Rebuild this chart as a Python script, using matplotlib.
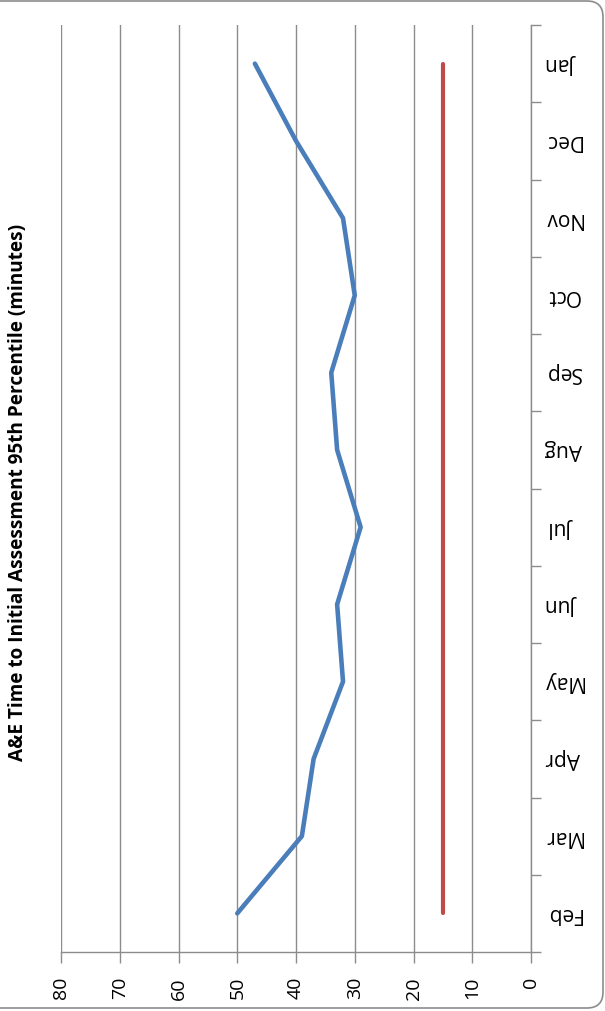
import numpy as np
import matplotlib.pyplot as plt
from matplotlib.patches import FancyBboxPatch

plt.rcParams['font.family'] = ['Open Sans', 'DejaVu Sans']

months = ["Feb", "Mar", "Apr", "May", "Jun", "Jul", "Aug", "Sep", "Oct", "Nov", "Dec", "Jan"]
minutes_95th = [50, 39, 37, 32, 33, 29, 33, 34, 30, 32, 40, 47]
target_minutes = [15, 15, 15, 15, 15, 15, 15, 15, 15, 15, 15, 15]
value_ticks = [0, 10, 20, 30, 40, 50, 60, 70, 80]
title = "A&E Time to Initial Assessment 95th Percentile (minutes)"

W, H = 605, 1011
axis_grey = '#8c8c8c'

fig = plt.figure(figsize=(W / 100, H / 100), dpi=100)

# rounded chart-area frame, laid out in pixel units
bg = fig.add_axes([0, 0, 1, 1])
bg.set_xlim(0, W)
bg.set_ylim(0, H)
bg.axis('off')
bg.add_patch(FancyBboxPatch((-30, 3), 633, 1007,
                            boxstyle="round,pad=0,rounding_size=16",
                            fc='white', ec=axis_grey, lw=1.2))

# chart is laid on its side: values run right-to-left, months bottom-to-top
ax = fig.add_axes([61 / W, (H - 952) / H, 470 / W, 927 / H])
ax.patch.set_alpha(0)
ax.set_xlim(80, 0)
ax.set_ylim(-0.5, 11.5)

pos = np.arange(len(months))
ax.plot(target_minutes, pos, color='#BE4B48', lw=3.0, solid_capstyle='round', zorder=3)
ax.plot(minutes_95th, pos, color='#4A7EBB', lw=3.3,
        solid_capstyle='round', solid_joinstyle='round', zorder=4)

ax.set_xticks(value_ticks)
ax.grid(axis='x', color=axis_grey, lw=1.0)
ax.set_axisbelow(True)
ax.tick_params(axis='x', length=8, width=1, color=axis_grey,
               labelrotation=90, labelsize=14, pad=10)

ax.yaxis.tick_right()
ax.set_yticks(np.arange(-0.5, len(months), 1))
ax.set_yticklabels([])
ax.set_yticks(pos, minor=True)
ax.set_yticklabels(months, minor=True, rotation=180, ha='center', va='center')
ax.tick_params(axis='y', which='major', length=7, width=1, color=axis_grey)
ax.tick_params(axis='y', which='minor', length=0, labelsize=15, pad=23)

for side in ['top', 'left']:
    ax.spines[side].set_visible(False)
for side in ['bottom', 'right']:
    ax.spines[side].set_color(axis_grey)
    ax.spines[side].set_linewidth(1.0)

fig.text(18 / W, 1 - 492 / H, title, rotation=90, ha='center', va='center',
         fontsize=13.7, fontweight='bold')

fig.savefig('out.png', dpi=100)
